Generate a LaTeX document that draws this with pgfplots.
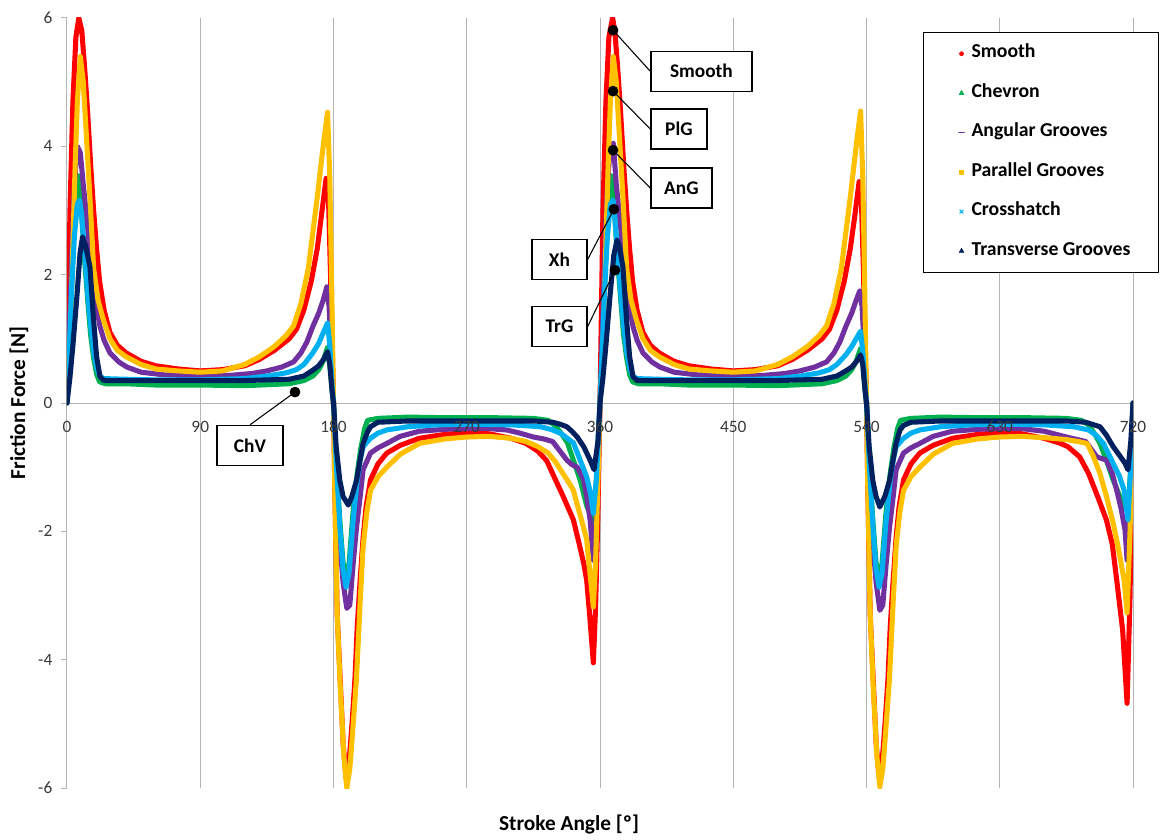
\documentclass[border=0pt]{standalone}
\usepackage{fontspec}
\setmainfont{Carlito}
\usepackage{pgfplots}
\pgfplotsset{compat=1.18}
\definecolor{cRed}{HTML}{FF0000}
\definecolor{cGreen}{HTML}{00B050}
\definecolor{cPurple}{HTML}{7030A0}
\definecolor{cGold}{HTML}{FFC000}
\definecolor{cCyan}{HTML}{00B0F0}
\definecolor{cNavy}{HTML}{002060}
\definecolor{cGrid}{HTML}{B4B4B4}
\definecolor{cTick}{HTML}{3A3A3A}
\begin{document}
\begin{tikzpicture}
\useasboundingbox (0,0) rectangle (871.5pt,629.25pt);
\begin{axis}[
  at={(50.25pt,38.25pt)}, anchor=south west,
  scale only axis, width=799.5pt, height=577.5pt,
  xmin=0, xmax=720, ymin=-6, ymax=6,
  clip mode=individual,
  axis x line*=middle, axis y line*=left,
  hide obscured x ticks=false,
  axis line style={draw=cGrid, line width=0.75pt},
  xtick={0,90,180,270,360,450,540,630,720},
  xticklabels={},
  ytick={-6,-4,-2,0,2,4,6},
  yticklabels={-6,-4,-2,0,2,4,6},
  xmajorgrids, major grid style={draw=cGrid, line width=0.75pt},
  tick align=outside, major tick length=4.5pt,
  tick style={draw=cGrid, line width=0.75pt},
  ticklabel style={font=\fontsize{13}{15}\selectfont, text=cTick},
  yticklabel style={xshift=-3pt},
  xlabel={Stroke Angle [º]}, ylabel={Friction Force [N]},
  label style={font=\fontsize{16}{18}\selectfont\bfseries},
  xlabel style={at={(axis description cs:0.471,-0.048)}, anchor=center},
  ylabel style={at={(axis description cs:-0.045,0.5)}, anchor=center},
  legend cell align=left,
  legend image code/.code={\path[draw=none] (-28.5pt,0pt) -- (7.5pt,0pt); \draw[#1] plot coordinates {(0pt,0pt)};},
  legend style={at={(axis description cs:0.803,0.982)}, anchor=north west,
    draw=black, line width=0.8pt, inner xsep=0pt, inner ysep=9pt,
    row sep=15.6pt, font=\fontsize{14.8}{16}\selectfont\bfseries,
    nodes={inner ysep=0pt, inner xsep=0pt, text height=10pt, text depth=4pt}},
  every axis plot/.append style={line width=3.8pt, line join=round, line cap=round},
]
\addlegendimage{only marks, mark=*, cRed, mark size=1.5pt, line width=0.5pt}
\addlegendentry{Smooth}
\addlegendimage{only marks, mark=triangle*, cGreen, mark size=2pt, line width=0.5pt}
\addlegendentry{Chevron}
\addlegendimage{only marks, mark=-, cPurple, mark size=2pt, line width=1pt}
\addlegendentry{Angular Grooves}
\addlegendimage{only marks, mark=square*, cGold, mark size=1.5pt, line width=0.5pt}
\addlegendentry{Parallel Grooves}
\addlegendimage{only marks, mark=x, cCyan, mark size=1.8pt, line width=0.8pt}
\addlegendentry{Crosshatch}
\addlegendimage{only marks, mark=triangle*, cNavy, mark size=2pt, line width=0.5pt}
\addlegendentry{Transverse Grooves\hspace*{21pt}}

% Smooth
\addplot[cRed, forget plot] coordinates {
(0,0)(1,1.5)(2,3.0)(4,4.7)(6,5.7)(8,6.0)(10,5.8)(12,5.2)(14,4.5)(16,3.7)(18,3.0)(20,2.4)(22,1.9)(25,1.45)(29,1.1)(34,0.9)(40,0.78)(50,0.65)(60,0.58)(75,0.53)(90,0.5)(105,0.52)(120,0.58)(130,0.68)(140,0.82)(150,1.0)(155,1.15)(160,1.45)(165,1.9)(169,2.4)(172,2.95)(175,3.5)(176.5,3.3)(178,2.0)(180,0)
(181,-1.5)(182.5,-3.3)(184.5,-4.3)(186.5,-5.3)(188.5,-5.85)(190.5,-5.6)(192.5,-5.0)(194.5,-4.3)(196,-3.5)(198,-2.76)(200,-2.1)(202,-1.62)(205,-1.2)(210,-0.95)(216,-0.78)(225,-0.66)(238,-0.55)(255,-0.49)(270,-0.46)(285,-0.48)(300,-0.55)(310,-0.63)(318,-0.75)(324,-0.9)(328,-1.1)(335,-1.45)(342,-1.82)(346,-2.2)(349,-2.5)(351,-2.76)(353,-3.3)(355.5,-4.05)(357,-3.2)(358.5,-1.8)(360,0)
(361,1.5)(362,3.0)(364,4.7)(366,5.7)(368.5,6.0)(370,5.8)(372,5.2)(374,4.5)(376,3.7)(378,3.0)(380,2.4)(382,1.9)(385,1.45)(389,1.1)(394,0.9)(400,0.78)(410,0.65)(420,0.58)(435,0.53)(450,0.5)(465,0.52)(480,0.58)(490,0.68)(500,0.82)(510,1.0)(515,1.15)(520,1.45)(525,1.9)(529,2.4)(532,2.9)(535,3.45)(536.5,3.2)(538,2.0)(540,0)
(541,-1.5)(542.5,-3.3)(544.5,-4.3)(546.5,-5.3)(548.5,-5.83)(550.5,-5.6)(552.5,-5.0)(554.5,-4.3)(556,-3.5)(558,-2.76)(560,-2.1)(562,-1.62)(565,-1.2)(570,-0.95)(576,-0.78)(585,-0.66)(598,-0.55)(615,-0.49)(630,-0.46)(645,-0.48)(660,-0.55)(670,-0.62)(676,-0.68)(684,-0.84)(690,-1.1)(696,-1.45)(702,-1.82)(706,-2.2)(709,-2.76)(713,-3.54)(716,-4.68)(718,-3.0)(720,0)
};
% Chevron
\addplot[cGreen, forget plot] coordinates {
(0,0)(1.5,0.8)(3,1.8)(5,2.9)(7,3.55)(8.5,3.5)(10,2.9)(12,2.2)(14,1.6)(16,1.05)(18,0.7)(20,0.45)(22,0.33)(26,0.3)(40,0.3)(60,0.28)(90,0.28)(120,0.27)(150,0.3)(160,0.35)(166,0.42)(170,0.52)(173,0.65)(176,0.87)(177.5,0.6)(179,0.2)(180,0)
(182,-1.0)(184.5,-1.9)(186.5,-2.5)(188.5,-2.7)(190.5,-2.5)(193,-1.75)(196,-1.1)(198.5,-0.7)(201,-0.4)(203,-0.27)(210,-0.24)(230,-0.22)(260,-0.23)(290,-0.23)(315,-0.24)(325,-0.27)(330,-0.36)(334,-0.48)(338,-0.62)(342,-0.89)(346.6,-1.2)(351,-1.6)(355.5,-1.85)(357.5,-1.2)(360,0)
(361.5,0.8)(363,1.8)(365,2.9)(367,3.55)(368.5,3.5)(370,2.9)(372,2.2)(374,1.6)(376,1.05)(378,0.7)(380,0.45)(382,0.33)(386,0.3)(400,0.3)(420,0.28)(450,0.28)(480,0.27)(510,0.3)(520,0.35)(526,0.42)(530,0.52)(533,0.65)(536,0.85)(537.5,0.6)(539,0.2)(540,0)
(542,-1.0)(544.5,-1.9)(546.5,-2.5)(548.5,-2.7)(550.5,-2.5)(553,-1.75)(556,-1.1)(558.5,-0.7)(561,-0.4)(563,-0.27)(570,-0.24)(590,-0.22)(620,-0.23)(650,-0.23)(675,-0.24)(685,-0.27)(690,-0.34)(694,-0.48)(697.7,-0.63)(702,-0.89)(706.6,-1.2)(711,-1.45)(714.6,-1.62)(716.5,-1.7)(718.5,-1.0)(720,0)
};
% Angular
\addplot[cPurple, forget plot] coordinates {
(0,0)(1.5,1.0)(3,2.2)(5,3.4)(7,4.0)(9,3.9)(11,3.4)(13.3,2.9)(15.5,2.35)(17.8,1.87)(20,1.5)(22.3,1.19)(25,0.98)(29,0.78)(35,0.64)(40.5,0.56)(50,0.48)(65,0.44)(90,0.42)(110,0.43)(125,0.46)(135,0.5)(145,0.56)(153,0.64)(158,0.78)(162,0.95)(166,1.19)(170,1.4)(173,1.6)(175.5,1.81)(177,1.5)(179,0.6)(180,0)
(182,-1.3)(184,-2.1)(186.5,-2.8)(189,-3.2)(191,-3.15)(193.3,-2.5)(195.5,-1.95)(198,-1.46)(200,-1.04)(205,-0.78)(210,-0.7)(216,-0.63)(225,-0.52)(238,-0.44)(255,-0.41)(270,-0.4)(285,-0.4)(297,-0.42)(306,-0.47)(315,-0.53)(322,-0.56)(328,-0.6)(333,-0.75)(337.6,-0.89)(341,-0.96)(344.6,-1.0)(347,-1.1)(349,-1.2)(351,-1.45)(353.3,-1.82)(355.5,-2.45)(357,-2.0)(359,-0.8)(360,0)
(361.5,1.0)(363,2.2)(365,3.4)(367,4.0)(369,4.05)(371,3.4)(373.3,2.9)(375.5,2.35)(377.8,1.87)(380,1.5)(382.3,1.19)(385,0.98)(389,0.78)(395,0.64)(400.5,0.56)(410,0.48)(425,0.44)(450,0.42)(470,0.43)(485,0.46)(495,0.5)(505,0.56)(513,0.64)(518,0.78)(522,0.95)(526,1.19)(530,1.4)(533,1.6)(535.5,1.75)(537,1.5)(539,0.6)(540,0)
(542,-1.3)(544,-2.1)(546.5,-2.8)(549,-3.23)(551,-3.15)(553.3,-2.5)(555.5,-1.95)(558,-1.46)(560,-1.04)(565,-0.78)(570,-0.7)(576,-0.63)(585,-0.52)(598,-0.44)(615,-0.41)(630,-0.4)(645,-0.4)(660,-0.44)(675,-0.53)(688,-0.6)(695.6,-0.84)(702,-0.89)(706,-1.1)(709,-1.36)(712,-1.65)(714.6,-1.98)(716,-2.45)(718,-1.5)(720,0)
};
% Parallel
\addplot[cGold, forget plot] coordinates {
(0,0)(2,0.9)(3,1.6)(4,2.5)(5.5,3.7)(7,4.7)(9,5.4)(11,5.0)(13,4.2)(15.5,3.2)(18,2.1)(21,1.6)(24.5,1.3)(29,1.0)(34,0.82)(40,0.72)(50,0.6)(60,0.53)(75,0.5)(90,0.48)(105,0.5)(120,0.6)(130,0.72)(140,0.88)(148,1.05)(153,1.2)(158,1.55)(163,2.1)(166,2.65)(169,3.2)(171,3.6)(173.5,4.1)(176,4.53)(177.5,3.5)(179,1.5)(180,0)
(181,-1.5)(182.5,-3.3)(184.5,-4.4)(187,-5.5)(189,-6.0)(191,-5.7)(193,-5.1)(195.5,-4.3)(198,-3.1)(200,-2.24)(202.5,-1.7)(205,-1.36)(210,-1.15)(216,-1.0)(225,-0.8)(238,-0.63)(255,-0.56)(270,-0.53)(285,-0.52)(300,-0.55)(310,-0.6)(318,-0.68)(325,-0.78)(330,-0.92)(335,-1.1)(340,-1.28)(342,-1.36)(346,-1.7)(349,-1.95)(351,-2.13)(353,-2.6)(355.5,-3.18)(357,-2.5)(358.5,-1.3)(360,0)
(362,0.9)(363,1.6)(364,2.5)(365.5,3.7)(367,4.7)(369,5.4)(371,5.0)(373,4.2)(375.5,3.2)(378,2.1)(381,1.6)(384.5,1.3)(389,1.0)(394,0.82)(400,0.72)(410,0.6)(420,0.53)(435,0.5)(450,0.48)(465,0.5)(480,0.6)(490,0.72)(500,0.88)(508,1.05)(513,1.2)(518,1.55)(523,2.1)(526,2.65)(529,3.2)(531,3.6)(533.5,4.1)(536,4.55)(537.5,3.5)(539,1.5)(540,0)
(541,-1.5)(542.5,-3.3)(544.5,-4.4)(547,-5.5)(549,-5.98)(551,-5.7)(553,-5.1)(555.5,-4.3)(558,-3.1)(560,-2.24)(562.5,-1.7)(565,-1.36)(570,-1.15)(576,-1.0)(585,-0.8)(598,-0.63)(615,-0.56)(630,-0.53)(645,-0.52)(660,-0.54)(675,-0.57)(683,-0.6)(689,-0.63)(693,-0.82)(697.7,-1.1)(702,-1.45)(706.6,-1.87)(710,-2.25)(714,-2.76)(716,-3.27)(718,-2.0)(720,0)
};
% Crosshatch
\addplot[cCyan, forget plot] coordinates {
(0,0)(1.5,0.8)(3,1.7)(5,2.6)(7,3.1)(8.5,3.16)(10,2.9)(12,2.3)(14,1.7)(16,1.2)(18,0.8)(20,0.55)(22,0.42)(25,0.38)(40,0.37)(60,0.36)(90,0.36)(120,0.38)(135,0.42)(148,0.47)(155,0.52)(160,0.6)(166,0.78)(170,0.93)(173,1.09)(176,1.25)(177.5,0.9)(179,0.3)(180,0)
(182,-1.0)(184.5,-2.0)(186.5,-2.6)(188.5,-2.87)(190.5,-2.65)(193,-1.9)(196,-1.2)(198,-0.9)(200,-0.68)(205,-0.55)(210,-0.47)(216,-0.42)(230,-0.37)(250,-0.34)(270,-0.33)(300,-0.34)(320,-0.37)(328,-0.42)(334,-0.48)(338,-0.55)(342,-0.62)(346.6,-0.89)(351,-1.15)(353.5,-1.4)(355.5,-1.72)(357.5,-1.2)(360,0)
(361.5,0.8)(363,1.7)(365,2.6)(367,3.1)(368.8,3.16)(370,2.9)(372,2.3)(374,1.7)(376,1.2)(378,0.8)(380,0.55)(382,0.42)(385,0.38)(400,0.37)(420,0.36)(450,0.36)(480,0.38)(495,0.42)(508,0.47)(515,0.52)(520,0.6)(526,0.75)(530,0.88)(533,1.0)(536,1.12)(537.5,0.8)(539,0.3)(540,0)
(542,-1.0)(544.5,-2.0)(546.5,-2.6)(548.5,-2.87)(550.5,-2.65)(553,-1.9)(556,-1.2)(558,-0.9)(560,-0.68)(565,-0.55)(570,-0.47)(576,-0.42)(590,-0.37)(610,-0.34)(630,-0.33)(660,-0.34)(680,-0.37)(690,-0.42)(695,-0.5)(700,-0.63)(706.6,-0.94)(711,-1.15)(714,-1.36)(716.6,-1.82)(718.5,-1.0)(720,0)
};
% Transverse
\addplot[cNavy, forget plot] coordinates {
(0,0)(2,0.4)(4,0.9)(6.5,1.6)(8.8,2.33)(10.5,2.59)(12.5,2.45)(15.5,2.12)(17.8,1.34)(20,0.72)(22.3,0.41)(25,0.35)(30,0.35)(60,0.35)(90,0.35)(120,0.35)(150,0.37)(160,0.42)(166,0.51)(170,0.58)(173,0.67)(176,0.8)(177.5,0.6)(179,0.2)(180,0)
(181.8,-0.68)(184.2,-1.2)(186.5,-1.46)(190,-1.59)(192.5,-1.45)(195.6,-1.2)(198,-0.88)(200,-0.63)(203,-0.45)(205,-0.37)(210,-0.3)(230,-0.28)(260,-0.28)(290,-0.28)(315,-0.28)(328,-0.3)(333,-0.33)(337.6,-0.37)(341,-0.44)(344.6,-0.53)(349,-0.68)(353.3,-0.89)(356,-1.04)(358.6,-0.6)(360,0)
(362,0.4)(364,0.9)(366.5,1.6)(369.3,2.3)(371.5,2.54)(373,2.45)(375.5,2.12)(377.8,1.34)(380,0.72)(382.3,0.41)(385,0.35)(390,0.35)(420,0.35)(450,0.35)(480,0.35)(510,0.37)(520,0.42)(526,0.5)(530,0.56)(533,0.64)(536,0.75)(537.5,0.6)(539,0.2)(540,0)
(541.8,-0.68)(544.2,-1.2)(546.5,-1.46)(549,-1.62)(552.5,-1.45)(555.6,-1.2)(558,-0.88)(560,-0.63)(562.6,-0.42)(565,-0.35)(570,-0.3)(590,-0.28)(620,-0.28)(650,-0.28)(675,-0.28)(688,-0.3)(697.7,-0.37)(702,-0.5)(706.6,-0.68)(711,-0.82)(714.6,-0.94)(716.6,-1.04)(718.5,-0.6)(720,0)
};
% callout pointer dots
\addplot[only marks, mark=*, black, mark size=3.75pt, line width=0.5pt, forget plot] coordinates {
(368.8,5.81)(368.8,4.86)(368.8,3.94)(369.4,3.02)(370.1,2.07)(154.0,0.17)};
% x tick labels on top of the curves
\pgfplotsinvokeforeach{0,90,180,270,360,450,540,630,720}{
  \node[font=\fontsize{13}{15}\selectfont, text=cTick, anchor=center, inner sep=0pt, yshift=-18pt] at (axis cs:#1,0) {#1};
}
\tikzset{callout/.style={draw=black, line width=1pt, fill=white, font=\fontsize{14.5}{16}\selectfont\bfseries, inner sep=0pt, minimum height=30pt}}
\node[callout, minimum width=75.75pt] (sm) at (axis cs:428.5,5.17) {Smooth};
\node[callout, minimum width=42pt] (pg) at (axis cs:413.3,4.27) {PlG};
\node[callout, minimum width=45.75pt] (ag) at (axis cs:415.0,3.35) {AnG};
\node[callout, minimum width=41.25pt] (xh) at (axis cs:332.6,2.236) {Xh};
\node[callout, minimum width=41.25pt] (tg) at (axis cs:332.6,1.19) {TrG};
\node[callout, minimum width=49.5pt] (cv) at (axis cs:123.6,-0.662) {ChV};
\draw[black, line width=0.8pt] (axis cs:368.8,5.81) -- (sm.west);
\draw[black, line width=0.8pt] (axis cs:368.8,4.86) -- (pg.west);
\draw[black, line width=0.8pt] (axis cs:368.8,3.94) -- (ag.west);
\draw[black, line width=0.8pt] (axis cs:369.4,3.02) -- (xh.east);
\draw[black, line width=0.8pt] (axis cs:370.1,2.07) -- (tg.east);
\draw[black, line width=0.8pt] (axis cs:154.0,0.17) -- (cv.north);
\end{axis}
\end{tikzpicture}
\end{document}
